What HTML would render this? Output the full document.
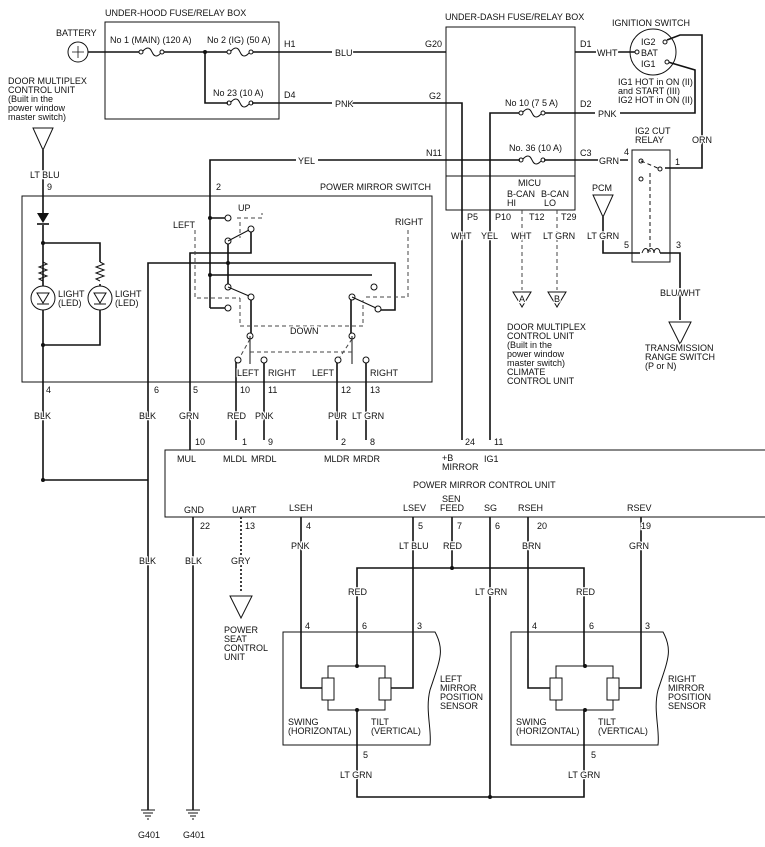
<!DOCTYPE html>
<html><head><meta charset="utf-8"><style>
html,body{margin:0;padding:0;background:#fff;}
svg{display:block;}
text{font-family:"Liberation Sans",Arial,sans-serif;font-size:9px;fill:#111;stroke:#fff;stroke-width:2.5px;paint-order:stroke;}
.w{stroke:#111;stroke-width:1.6;fill:none;}
.t{stroke:#111;stroke-width:1;fill:none;}
.d{stroke:#444;stroke-width:1;fill:none;stroke-dasharray:4,3;}
.c{stroke:#111;stroke-width:1;fill:#fff;}
</style></head><body>
<svg width="765" height="847" viewBox="0 0 765 847" xmlns="http://www.w3.org/2000/svg">
<text x="105" y="16">UNDER-HOOD FUSE/RELAY BOX</text>
<rect x="105" y="22" width="174" height="97" class="t"/>
<text x="56" y="36">BATTERY</text>
<circle cx="78" cy="52" r="10" class="t"/><path d="M72 52h12M78 46v12" stroke="#111" stroke-width="0.8"/>
<path d="M88 52H140 M163 52H228 M252 52H332 M352 52H446" class="w"/>
<text x="110" y="43">No 1 (MAIN) (120 A)</text>
<text x="207" y="43">No 2 (IG) (50 A)</text>
<text x="213" y="96">No 23 (10 A)</text>
<path d="M140 52c4 0 4-4 8-4s4 8 8 8 4-4 7-4 M228 52c4 0 4-4 8-4s4 8 8 8 4-4 8-4 M228 103c4 0 4-4 8-4s4 8 8 8 4-4 8-4" class="t"/>
<circle cx="141" cy="52" r="2" class="c"/><circle cx="162" cy="52" r="2" class="c"/>
<circle cx="229" cy="52" r="2" class="c"/><circle cx="251" cy="52" r="2" class="c"/>
<circle cx="229" cy="103" r="2" class="c"/><circle cx="251" cy="103" r="2" class="c"/>
<circle cx="205" cy="52" r="2" fill="#111"/>
<path d="M205 52V103H228 M252 103H332 M352 103H462V440" class="w"/>
<text x="284" y="47">H1</text><text x="335" y="56">BLU</text>
<text x="284" y="98">D4</text><text x="335" y="107">PNK</text>
<text x="445" y="20">UNDER-DASH FUSE/RELAY BOX</text>
<rect x="446" y="27" width="129" height="183" class="t"/>
<line x1="446" y1="176" x2="575" y2="176" class="t"/>
<text x="425" y="47">G20</text><text x="429" y="99">G2</text><text x="426" y="156">N11</text>
<text x="580" y="47">D1</text><text x="580" y="107">D2</text><text x="580" y="156">C3</text>
<path d="M490 440V113H520 M544 113H595 M620 113H695V70L668 62" class="w"/>
<text x="505" y="106">No 10 (7 5 A)</text>
<text x="509" y="151">No. 36 (10 A)</text>
<path d="M520 113c4 0 4-4 8-4s4 8 8 8 4-4 8-4 M520 160c4 0 4-4 8-4s4 8 8 8 4-4 8-4" class="t"/>
<circle cx="521" cy="113" r="2" class="c"/><circle cx="543" cy="113" r="2" class="c"/>
<circle cx="521" cy="160" r="2" class="c"/><circle cx="543" cy="160" r="2" class="c"/>
<text x="598" y="117">PNK</text>
<path d="M210 308V160H296 M318 160H520 M544 160H598 M620 160H628" class="w"/>
<text x="298" y="164">YEL</text><text x="599" y="164">GRN</text>
<path d="M575 52H596 M618 52H636" class="w"/><text x="597" y="56">WHT</text>
<text x="518" y="186">MICU</text>
<text x="507" y="197">B-CAN</text><text x="541" y="197">B-CAN</text>
<text x="507" y="206">HI</text><text x="544" y="206">LO</text>
<path d="M522 210V290 M557 210V290" class="d" stroke-width="1.6"/>
<text x="467" y="220">P5</text><text x="495" y="220">P10</text><text x="529" y="220">T12</text><text x="561" y="220">T29</text>
<text x="451" y="239">WHT</text><text x="481" y="239">YEL</text><text x="511" y="239">WHT</text><text x="543" y="239">LT GRN</text>
<path d="M513 292H531L522 307Z M548 292H566L557 307Z" class="t"/>
<text x="519" y="302" font-size="7">A</text><text x="554" y="302" font-size="7">B</text>
<text x="507" y="330">DOOR MULTIPLEX</text><text x="507" y="339">CONTROL UNIT</text>
<text x="507" y="348">(Built in the</text><text x="507" y="357">power window</text>
<text x="507" y="366">master switch)</text><text x="507" y="375">CLIMATE</text><text x="507" y="384">CONTROL UNIT</text>
<text x="612" y="26">IGNITION SWITCH</text>
<circle cx="653" cy="52" r="23" class="t"/>
<path d="M667 40L680 35H702V168H665" class="w"/>
<text x="641" y="45">IG2</text><text x="641" y="56">BAT</text><text x="641" y="67">IG1</text>
<circle cx="637" cy="52" r="2" class="c"/><circle cx="665" cy="42" r="2" class="c"/><circle cx="667" cy="62" r="2" class="c"/>
<text x="618" y="85">IG1 HOT in ON (II)</text><text x="618" y="94">and START (III)</text><text x="618" y="103">IG2 HOT in ON (II)</text>
<text x="635" y="134">IG2 CUT</text><text x="635" y="143">RELAY</text><text x="692" y="143">ORN</text>
<rect x="632" y="150" width="38" height="112" class="t"/>
<text x="624" y="155">4</text><text x="675" y="165">1</text><text x="624" y="248">5</text><text x="676" y="248">3</text>
<circle cx="641" cy="161" r="2" class="c"/><circle cx="660" cy="169" r="2" class="c"/><circle cx="641" cy="179" r="2" class="c"/>
<path d="M641 161L660 169 M650 173V252" class="t" stroke-dasharray="4,3"/>
<path d="M642 253c2-6 6-6 6 0c0-6 6-6 6 0c0-6 6-6 6 0" class="t"/>
<path d="M603 217V253H640 M660 253H680V320" class="w"/>
<text x="592" y="191">PCM</text><path d="M593 195H613L603 217Z" class="t"/>
<text x="587" y="239">LT GRN</text>
<text x="660" y="296">BLU/WHT</text>
<path d="M669 322H691L680 344Z" class="t"/>
<text x="645" y="351">TRANSMISSION</text><text x="645" y="360">RANGE SWITCH</text><text x="645" y="369">(P or N)</text>
<text x="8" y="84">DOOR MULTIPLEX</text><text x="8" y="93">CONTROL UNIT</text>
<text x="8" y="102">(Built in the</text><text x="8" y="111">power window</text><text x="8" y="120">master switch)</text>
<path d="M33 128H53L43 150Z" class="t"/>
<rect x="22" y="196" width="410" height="186" class="t" stroke-width="1.4"/>
<path d="M43 150V213 M43 225V480H148 M43 243H100V262 M100 284V345H43" class="w"/>
<text x="30" y="178">LT BLU</text>
<text x="320" y="190">POWER MIRROR SWITCH</text>
<text x="47" y="190">9</text><text x="216" y="190">2</text>
<path d="M37 213H49L43 223Z" fill="#111"/><path d="M37 224H49" class="w"/>
<circle cx="43" cy="243" r="2" fill="#111"/><circle cx="43" cy="345" r="2" fill="#111"/><circle cx="43" cy="480" r="2" fill="#111"/>
<path d="M43 262l4 2-8 3 8 3-8 3 8 3-8 3 4 2 M100 262l4 2-8 3 8 3-8 3 8 3-8 3 4 2" class="t"/>
<circle cx="43" cy="298" r="12" class="c"/><circle cx="100" cy="298" r="12" class="c"/>
<path d="M37 293H49L43 303Z M37 304H49 M94 293H106L100 303Z M94 304H106" class="t"/>
<text x="58" y="297">LIGHT</text><text x="58" y="306">(LED)</text>
<text x="115" y="297">LIGHT</text><text x="115" y="306">(LED)</text>
<path d="M148 810V263H395V310H380 M190 450V253H251V232 M210 218H226 M228 243V285 M210 275H372 M251 299V333 M351 299V333 M236 362V440 M264 362V440 M337 362V440 M366 362V440 M210 308H226" class="w"/>
<circle cx="210" cy="218" r="2" fill="#111"/><circle cx="228" cy="263" r="2" fill="#111"/><circle cx="210" cy="275" r="2" fill="#111"/>
<g class="c">
<circle cx="228" cy="218" r="3"/><circle cx="251" cy="229" r="3"/><circle cx="228" cy="241" r="3"/>
<circle cx="228" cy="287" r="3"/><circle cx="251" cy="297" r="3"/><circle cx="228" cy="308" r="3"/>
<circle cx="374" cy="287" r="3"/><circle cx="352" cy="297" r="3"/><circle cx="378" cy="309" r="3"/>
<circle cx="250" cy="336" r="3"/><circle cx="238" cy="360" r="3"/><circle cx="264" cy="360" r="3"/>
<circle cx="352" cy="336" r="3"/><circle cx="338" cy="360" r="3"/><circle cx="366" cy="360" r="3"/>
</g>
<path d="M228 241L249 230 M228 287L249 296 M352 297L376 308 M250 336V364 M352 336V364" class="t"/>
<path d="M237 218H262V213 M240 222V238 M195 230V298H240 M240 298V326H363V300 M408 230V297H363 M250 339L240 357 M352 339L340 357 M250 352H352" class="d"/>
<text x="238" y="211">UP</text><text x="173" y="228">LEFT</text><text x="395" y="225">RIGHT</text><text x="290" y="334">DOWN</text>
<text x="237" y="376">LEFT</text><text x="268" y="376">RIGHT</text><text x="312" y="376">LEFT</text><text x="370" y="376">RIGHT</text>
<path d="M765 450H165V517H765" class="t"/>
<path d="M193 517V810" class="w"/>
<path d="M241 517V592" stroke="#111" stroke-width="1.6" stroke-dasharray="2,2"/>
<path d="M301 517V688H323 M413 517V688H390 M452 517V568 M357 666V568H584V666 M490 517V797 M357 710V797H584V710 M528 517V688H551 M641 517V688H618" class="w"/>
<g><text x="46" y="393">4</text><text x="154" y="393">6</text><text x="193" y="393">5</text><text x="240" y="393">10</text><text x="268" y="393">11</text><text x="341" y="393">12</text><text x="370" y="393">13</text></g>
<g><text x="34" y="419">BLK</text><text x="139" y="419">BLK</text><text x="179" y="419">GRN</text><text x="227" y="419">RED</text><text x="255" y="419">PNK</text><text x="328" y="419">PUR</text><text x="352" y="419">LT GRN</text></g>
<g><text x="195" y="445">10</text><text x="242" y="445">1</text><text x="268" y="445">9</text><text x="341" y="445">2</text><text x="370" y="445">8</text><text x="465" y="445">24</text><text x="494" y="445">11</text></g>
<text x="177" y="462">MUL</text><text x="223" y="462">MLDL</text><text x="251" y="462">MRDL</text>
<text x="324" y="462">MLDR</text><text x="353" y="462">MRDR</text>
<text x="442" y="461">+B</text><text x="442" y="470">MIRROR</text><text x="484" y="462">IG1</text>
<text x="413" y="488">POWER MIRROR CONTROL UNIT</text>
<text x="184" y="513">GND</text><text x="232" y="513">UART</text><text x="289" y="511">LSEH</text><text x="403" y="511">LSEV</text>
<text x="442" y="502">SEN</text><text x="440" y="511">FEED</text><text x="484" y="511">SG</text><text x="518" y="511">RSEH</text><text x="627" y="511">RSEV</text>
<text x="200" y="529">22</text><text x="245" y="529">13</text><text x="306" y="529">4</text><text x="418" y="529">5</text><text x="457" y="529">7</text><text x="495" y="529">6</text><text x="537" y="529">20</text><text x="641" y="529">19</text>
<path d="M230 596H252L241 618Z" class="t"/>
<text x="224" y="633">POWER</text><text x="224" y="642">SEAT</text><text x="224" y="651">CONTROL</text><text x="224" y="660">UNIT</text>
<text x="139" y="564">BLK</text><text x="185" y="564">BLK</text><text x="231" y="564">GRY</text>
<text x="291" y="549">PNK</text><text x="399" y="549">LT BLU</text><text x="443" y="549">RED</text><text x="522" y="549">BRN</text><text x="629" y="549">GRN</text>
<text x="348" y="595">RED</text><text x="576" y="595">RED</text><text x="475" y="595">LT GRN</text>
<circle cx="452" cy="568" r="2" fill="#111"/><circle cx="490" cy="797" r="2" fill="#111"/>
<g id="L">
<path d="M283 632H435C445 650 440 660 430 690C425 710 432 730 430 745H283Z" class="t"/>
<path d="M328 666H385V710H328Z" class="t"/>
<rect x="322" y="678" width="12" height="22" class="c"/><rect x="379" y="678" width="12" height="22" class="c"/>
<circle cx="357" cy="666" r="2" fill="#111"/><circle cx="357" cy="710" r="2" fill="#111"/>
</g>
<use href="#L" x="228"/>
<text x="305" y="629">4</text><text x="362" y="629">6</text><text x="417" y="629">3</text>
<text x="532" y="629">4</text><text x="589" y="629">6</text><text x="645" y="629">3</text>
<text x="288" y="725">SWING</text><text x="288" y="734">(HORIZONTAL)</text><text x="371" y="725">TILT</text><text x="371" y="734">(VERTICAL)</text>
<text x="516" y="725">SWING</text><text x="516" y="734">(HORIZONTAL)</text><text x="598" y="725">TILT</text><text x="598" y="734">(VERTICAL)</text>
<text x="440" y="682">LEFT</text><text x="440" y="691">MIRROR</text><text x="440" y="700">POSITION</text><text x="440" y="709">SENSOR</text>
<text x="668" y="682">RIGHT</text><text x="668" y="691">MIRROR</text><text x="668" y="700">POSITION</text><text x="668" y="709">SENSOR</text>
<text x="363" y="758">5</text><text x="591" y="758">5</text>
<text x="340" y="778">LT GRN</text><text x="568" y="778">LT GRN</text>
<path d="M141 810H155M143 813H153M145 816H151M147 819H149 M186 810H200M188 813H198M190 816H196M192 819H194" class="t"/>
<text x="138" y="838">G401</text><text x="183" y="838">G401</text>
</svg>
</body></html>
